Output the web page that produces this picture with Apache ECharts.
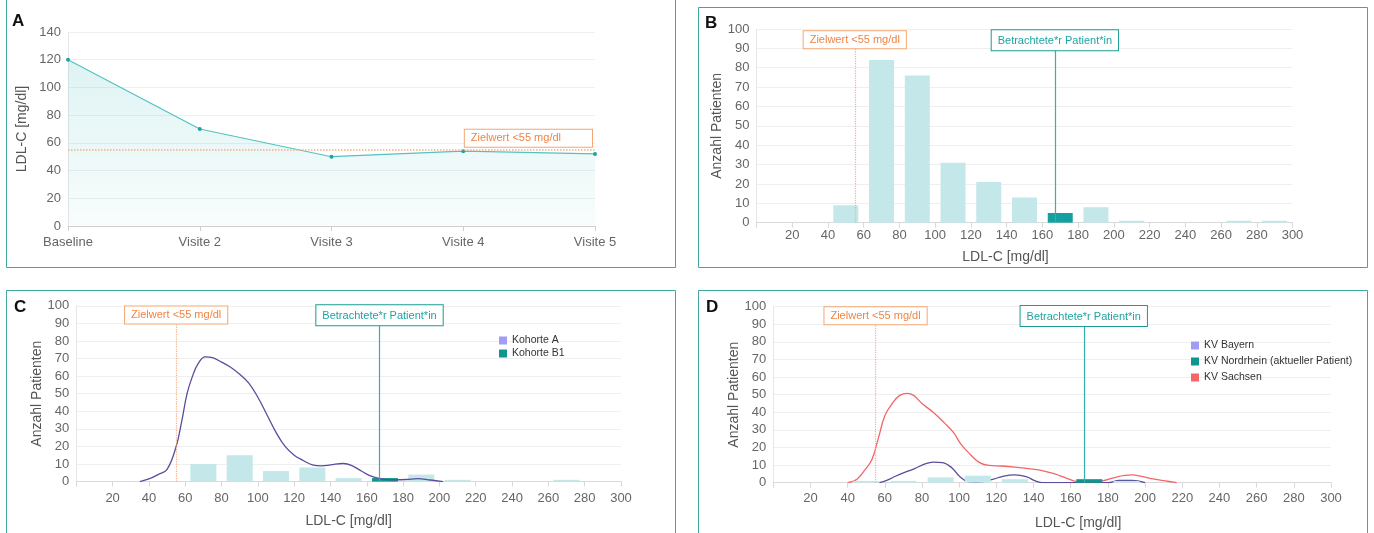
<!DOCTYPE html>
<html>
<head>
<meta charset="utf-8">
<script src="https://cdn.jsdelivr.net/npm/echarts@6/dist/echarts.min.js"></script>
<style>
html,body{margin:0;padding:0;background:#fff;}
#chart{width:1374px;height:533px;}
</style>
</head>
<body>
<div id="chart"></div>
<script>
// ---------- DATA ----------
const visitLabels = ['Baseline', 'Visite 2', 'Visite 3', 'Visite 4', 'Visite 5'];
const ldlByVisit = [120, 70, 50, 54, 52];
const targetLdl = 55;
const patientLdl = 167;
const histTicks = [20, 40, 60, 80, 100, 120, 140, 160, 180, 200, 220, 240, 260, 280, 300];
const binCenters = [10, 30, 50, 70, 90, 110, 130, 150, 170, 190, 210, 230, 250, 270, 290];
const patientBinIndex = 8;
const countsAll = [0, 0, 9, 84, 76, 31, 21, 13, 5, 8, 1, 0, 0, 1, 1];
const countsKohorteB1 = [0, 0, 0, 10, 15, 6, 8, 2, 2, 4, 1, 0, 0, 1, 0];
const kohorteAx = [35, 40, 45, 50, 55, 58, 61, 64, 67, 71, 75, 80, 85, 90, 95, 100, 105, 110, 115, 120, 125, 130, 135, 140, 147, 152, 157, 162, 168, 175, 182, 188, 195, 202];
const kohorteAy = [0, 1.5, 4, 7, 20, 34, 50, 60, 67, 71, 70.5, 68, 65, 61, 56, 48, 38, 28, 20, 15, 12, 9.5, 9, 9.5, 10.3, 9, 6, 3.2, 1.5, 1, 1.2, 1.7, 0.9, 0];
const countsNordrhein = [0, 0, 1, 1, 3, 4, 2, 0, 2, 1, 0, 0, 0, 0, 0];
const bayernX = [57, 61, 66, 71, 76, 81, 86, 91, 96, 100, 105, 109, 118, 124, 130, 136, 141, 145, 180, 186, 193, 200];
const bayernY = [0, 1.3, 3.8, 6, 8, 10.4, 11.7, 11.4, 8.5, 3.8, 0.4, 0, 1.9, 3.8, 4.5, 3.4, 1, 0, 0, 1.3, 1.3, 0];
const sachsenX = [40, 45, 49.5, 53, 56.6, 60, 64, 68, 72, 75.5, 80, 86, 92, 97, 101, 106, 111, 116, 123, 130, 137, 144, 151, 158, 163, 170, 177, 183, 189, 193, 198, 205, 211, 217];
const sachsenY = [0, 2, 7.6, 13, 25.6, 38, 45, 49.6, 50.8, 49.6, 45, 40, 34, 28.4, 21.8, 16, 11.4, 9.8, 9.5, 8.9, 8, 7, 5.1, 2.5, 0.8, 0.6, 1, 2.8, 4.2, 4.4, 3.6, 2, 1, 0];

// ---------- STYLE ----------
const FONT = "'Liberation Sans', Arial, sans-serif";
const BORDER = '#3ea89f';
const LIGHT_BAR = '#c4e7e9';
const ORANGE_TXT = '#ef8444';
const ORANGE_BOX = '#f4a673';
const ORANGE_LINE = '#f5b088';
const TEAL_TXT = '#1ea5a3';
const TEAL_BOX = '#1b9b93';
const TEAL_LINE = '#35b0b0';
const PURPLE = '#5a4d9c';
const LAVENDER = '#a19df6';
const RED = '#f26668';
const DARK_TEAL = '#0f958d';

const chart = echarts.init(document.getElementById('chart'), null, {renderer: 'canvas'});

function pairs(xs, ys) { return xs.map((x, i) => [x, ys[i]]); }
function bars(counts, darkColor) {
  return binCenters.map((c, i) => i === patientBinIndex
    ? {value: [c, counts[i]], itemStyle: {color: darkColor}}
    : {value: [c, counts[i]]});
}
const targetLineStyle = {type: 'dotted', color: ORANGE_LINE, width: 1.2};
const patientLineStyle = {type: 'solid', color: TEAL_LINE, width: 1.2};
const targetLabel = {show: true, position: 'end', distance: 0, formatter: 'Zielwert <55 mg/dl',
  color: ORANGE_TXT, fontSize: 11, backgroundColor: '#fff', borderColor: ORANGE_BOX,
  borderWidth: 1, padding: [3, 6, 3, 6]};
const patientLabel = {show: true, position: 'end', distance: 0, formatter: 'Betrachtete*r Patient*in',
  color: TEAL_TXT, fontSize: 11, backgroundColor: '#fff', borderColor: TEAL_BOX,
  borderWidth: 1, padding: [5, 6, 4, 6]};
function refLines() {
  return {
    symbol: ['none', 'none'],
    silent: true,
    animation: false,
    lineStyle: patientLineStyle,
    data: [
      [
        {coord: [targetLdl, 0], lineStyle: targetLineStyle, label: targetLabel},
        {coord: [targetLdl, 90], lineStyle: targetLineStyle, label: targetLabel}
      ],
      [
        {coord: [patientLdl, 0], lineStyle: patientLineStyle, label: patientLabel},
        {coord: [patientLdl, 89], lineStyle: patientLineStyle, label: patientLabel}
      ]
    ]
  };
}
function histX(gi, labelMargin, nameGap, namePad) {
  return {
    gridIndex: gi, type: 'value', min: 0, max: 300, interval: 20,
    axisLine: {show: true, lineStyle: {color: '#d9d9d9'}},
    axisTick: {show: true, lineStyle: {color: '#d9d9d9'}},
    splitLine: {show: false},
    axisLabel: {color: '#666', fontSize: 13, margin: labelMargin,
      formatter: v => histTicks.indexOf(v) >= 0 ? String(v) : ''},
    name: 'LDL-C [mg/dl]', nameLocation: 'middle', nameGap: nameGap,
    nameTextStyle: {fontSize: 14, color: '#555', padding: namePad}
  };
}
function histY(gi, nameGap) {
  return {
    gridIndex: gi, type: 'value', min: 0, max: 100, interval: 10,
    axisLine: {show: true, lineStyle: {color: '#e6e6e6'}},
    axisTick: {show: false},
    splitLine: {lineStyle: {color: '#efefef'}},
    axisLabel: {color: '#666', fontSize: 13, margin: 7},
    name: 'Anzahl Patienten', nameLocation: 'middle', nameGap: nameGap,
    nameTextStyle: {fontSize: 14, color: '#555'}
  };
}
function panelText(t, x, y) {
  return {type: 'text', left: x, top: y, z: 10,
    style: {text: t, font: 'bold 17px ' + FONT, fill: '#111'}};
}

const option = {
  animation: false,
  textStyle: {fontFamily: FONT},
  graphic: [
    {type: 'rect', shape: {x: 6.5, y: -3.5, width: 669, height: 271}, style: {fill: 'none', stroke: BORDER, lineWidth: 1}},
    {type: 'rect', shape: {x: 698.5, y: 7.5, width: 669, height: 260}, style: {fill: 'none', stroke: BORDER, lineWidth: 1}},
    {type: 'rect', shape: {x: 6.5, y: 290.5, width: 669, height: 260}, style: {fill: 'none', stroke: BORDER, lineWidth: 1}},
    {type: 'rect', shape: {x: 698.5, y: 290.5, width: 669, height: 260}, style: {fill: 'none', stroke: BORDER, lineWidth: 1}},
    panelText('A', 12, 13),
    panelText('B', 705, 15),
    panelText('C', 14, 299),
    panelText('D', 706, 299)
  ],
  grid: [
    {left: 68, top: 32, width: 527, height: 194},
    {left: 756.5, top: 29, width: 536, height: 193.7},
    {left: 76.3, top: 305.8, width: 544.7, height: 175.8},
    {left: 773.3, top: 306.7, width: 557.7, height: 176}
  ],
  legend: [
    {data: [{name: 'Kohorte A', itemStyle: {color: LAVENDER}}, {name: 'Kohorte B1', itemStyle: {color: DARK_TEAL}}],
      orient: 'vertical', left: 494, top: 330, icon: 'rect', itemWidth: 8, itemHeight: 8, itemGap: 2,
      selectedMode: false, textStyle: {fontSize: 10.5, color: '#333'}},
    {data: [{name: 'KV Bayern', itemStyle: {color: LAVENDER}}, {name: 'KV Nordrhein (aktueller Patient)', itemStyle: {color: DARK_TEAL}}, {name: 'KV Sachsen', itemStyle: {color: RED}}],
      orient: 'vertical', left: 1186, top: 335, icon: 'rect', itemWidth: 8, itemHeight: 8, itemGap: 5,
      selectedMode: false, textStyle: {fontSize: 10.5, color: '#333'}}
  ],
  xAxis: [
    {gridIndex: 0, type: 'category', data: visitLabels, boundaryGap: false,
      axisLine: {lineStyle: {color: '#d0d0d0'}}, axisTick: {show: true, lineStyle: {color: '#d0d0d0'}},
      axisLabel: {color: '#666', fontSize: 13, margin: 10}},
    histX(1, 6, 27, [0, 38, 0, 0]),
    histX(2, 10, 33, [0, 0, 0, 0]),
    histX(3, 9, 33, [0, 0, 0, 52])
  ],
  yAxis: [
    {gridIndex: 0, type: 'value', min: 0, max: 140, interval: 20,
      axisLine: {show: true, lineStyle: {color: '#e6e6e6'}}, axisTick: {show: false},
      splitLine: {lineStyle: {color: '#efefef'}},
      axisLabel: {color: '#666', fontSize: 13, margin: 7},
      name: 'LDL-C [mg/dl]', nameLocation: 'middle', nameGap: 39,
      nameTextStyle: {fontSize: 14, color: '#555'}},
    histY(1, 32),
    histY(2, 31),
    histY(3, 29)
  ],
  series: [
    {name: 'LDL-C', type: 'line', xAxisIndex: 0, yAxisIndex: 0, data: ldlByVisit,
      symbol: 'circle', symbolSize: 4, itemStyle: {color: '#1ea3a0'},
      lineStyle: {color: '#53c2c2', width: 1.2},
      areaStyle: {color: new echarts.graphic.LinearGradient(0, 0, 0, 1, [
        {offset: 0, color: 'rgba(90,195,195,0.28)'}, {offset: 1, color: 'rgba(90,195,195,0.06)'}])},
      markLine: {symbol: ['none', 'none'], silent: true,
        lineStyle: {type: 'dotted', color: ORANGE_LINE, width: 1.5},
        label: {show: true, position: 'insideEndTop', distance: 3, formatter: 'Zielwert <55 mg/dl',
          color: ORANGE_TXT, fontSize: 11, backgroundColor: '#fff', borderColor: ORANGE_BOX,
          borderWidth: 1, padding: [3, 31, 3, 6]},
        data: [{yAxis: targetLdl}]}},
    {name: 'Alle Patienten', type: 'bar', xAxisIndex: 1, yAxisIndex: 1, barWidth: 25,
      itemStyle: {color: LIGHT_BAR}, data: bars(countsAll, '#15a0a0'), markLine: refLines()},
    {name: 'Kohorte B1', type: 'bar', xAxisIndex: 2, yAxisIndex: 2, barWidth: 26,
      itemStyle: {color: LIGHT_BAR}, data: bars(countsKohorteB1, DARK_TEAL), markLine: refLines()},
    {name: 'Kohorte A', type: 'line', xAxisIndex: 2, yAxisIndex: 2, z: 3, smooth: 0.4, showSymbol: false,
      itemStyle: {color: LAVENDER}, lineStyle: {color: PURPLE, width: 1.3}, data: pairs(kohorteAx, kohorteAy)},
    {name: 'KV Nordrhein (aktueller Patient)', type: 'bar', xAxisIndex: 3, yAxisIndex: 3, barWidth: 26, z: 4,
      itemStyle: {color: LIGHT_BAR}, data: bars(countsNordrhein, DARK_TEAL), markLine: refLines()},
    {name: 'KV Bayern', type: 'line', xAxisIndex: 3, yAxisIndex: 3, z: 3, smooth: 0.4, showSymbol: false,
      itemStyle: {color: LAVENDER}, lineStyle: {color: PURPLE, width: 1.3}, data: pairs(bayernX, bayernY)},
    {name: 'KV Sachsen', type: 'line', xAxisIndex: 3, yAxisIndex: 3, z: 3, smooth: 0.4, showSymbol: false,
      itemStyle: {color: RED}, lineStyle: {color: RED, width: 1.3}, data: pairs(sachsenX, sachsenY)}
  ]
};
chart.setOption(option);
</script>
</body>
</html>
